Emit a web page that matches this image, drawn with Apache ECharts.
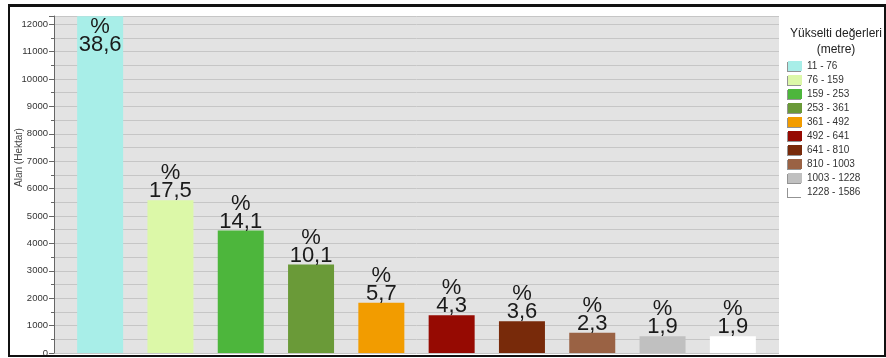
<!DOCTYPE html>
<html>
<head>
<meta charset="utf-8">
<script src="https://cdn.jsdelivr.net/npm/echarts@6/dist/echarts.min.js"></script>
<style>
html,body{margin:0;padding:0;background:#fff;}
#wrap{position:relative;width:886px;height:358px;}
#chart{position:absolute;left:0;top:0;width:886px;height:358px;}
#frame{position:absolute;left:8px;top:4px;width:874px;height:348px;border:2px solid #111;border-top-width:3px;pointer-events:none;}
</style>
</head>
<body>
<div id="wrap"><div id="chart"></div><div id="frame"></div></div>
<script>
// Data
const categories = ['11 - 76','76 - 159','159 - 253','253 - 361','361 - 492','492 - 641','641 - 810','810 - 1003','1003 - 1228','1228 - 1586'];
const areaValues = [12290, 5573, 4470, 3230, 1830, 1375, 1155, 740, 615, 610];
const percentLabels = ['38,6','17,5','14,1','10,1','5,7','4,3','3,6','2,3','1,9','1,9'];
const barColors = ['#a8eee8','#dcf8a8','#4db63c','#6a9a38','#f29c00','#960a02','#782a0a','#9a6244','#c0c0c0','#ffffff'];
const yAxisName = 'Alan (Hektar)';
const legendTitle = 'Yükselti değerleri\n(metre)';
const yMax = 12300;

const chart = echarts.init(document.getElementById('chart'));

const series = categories.map((cat, i) => ({
  name: cat,
  type: 'bar',
  xAxisIndex: 1,
  yAxisIndex: 1,
  stack: 'all',
  barWidth: 46,
  data: categories.map((c, j) => j === i ? areaValues[i] : '-'),
  itemStyle: { color: barColors[i] },
  label: {
    show: true,
    position: i === 0 ? 'insideTop' : 'top',
    distance: i === 0 ? 2 : 0,
    formatter: () => '%\n' + percentLabels[i],
    fontFamily: 'Liberation Sans, Arial, sans-serif',
    fontSize: 22,
    lineHeight: 18,
    color: '#1a1a1a'
  }
}));

chart.setOption({
  animation: false,
  title: {
    text: legendTitle,
    left: 831,
    top: 21,
    textAlign: 'center',
    textStyle: {
      fontFamily: 'Liberation Sans, Arial, sans-serif',
      fontSize: 12,
      fontWeight: 'normal',
      lineHeight: 16,
      color: '#222'
    }
  },
  legend: {
    orient: 'vertical',
    left: 788,
    top: 61,
    padding: 0,
    itemWidth: 14,
    itemHeight: 10,
    itemGap: 4,
    icon: 'rect',
    data: categories,
    textStyle: {
      fontFamily: 'Liberation Sans, Arial, sans-serif',
      fontSize: 10,
      lineHeight: 10,
      color: '#333'
    },
    itemStyle: {
      shadowColor: 'rgba(120,120,120,0.8)',
      shadowOffsetX: -1,
      shadowOffsetY: 1,
      shadowBlur: 0
    }
  },
  grid: [
    { left: 54, right: 107, top: 16, bottom: 5, backgroundColor: '#e3e3e3', show: true, borderWidth: 0 },
    { left: 65, right: 118, top: 16, bottom: 5 }
  ],
  xAxis: [
    { gridIndex: 0, type: 'category', data: categories, show: false },
    { gridIndex: 1, type: 'category', data: categories, show: false }
  ],
  yAxis: [
    {
      gridIndex: 0,
      type: 'value',
      min: 0,
      max: yMax,
      interval: 1000,
      name: yAxisName,
      nameLocation: 'middle',
      nameGap: 30,
      nameMoveOverlap: false,
      nameTextStyle: {
        fontFamily: 'Liberation Sans, Arial, sans-serif',
        fontSize: 10,
        color: '#444',
        padding: [0, 0, 0, 54]
      },
      axisLine: { show: true, lineStyle: { color: '#666', width: 1 } },
      axisTick: { show: true, length: 5, lineStyle: { color: '#666' } },
      minorTick: { show: true, splitNumber: 2, length: 3, lineStyle: { color: '#666' } },
      axisLabel: {
        fontFamily: 'Liberation Sans, Arial, sans-serif',
        fontSize: 9.5,
        color: '#333',
        margin: 6,
        formatter: v => (v % 1000 === 0 ? String(v) : '')
      },
      splitLine: { show: true, lineStyle: { color: '#c6c6c6', width: 1 } },
      minorSplitLine: { show: true, lineStyle: { color: '#c6c6c6', width: 1 } }
    },
    {
      gridIndex: 1,
      type: 'value',
      min: 0,
      max: yMax,
      show: false,
      splitLine: { show: false }
    }
  ],
  series: series
});
</script>
</body>
</html>
